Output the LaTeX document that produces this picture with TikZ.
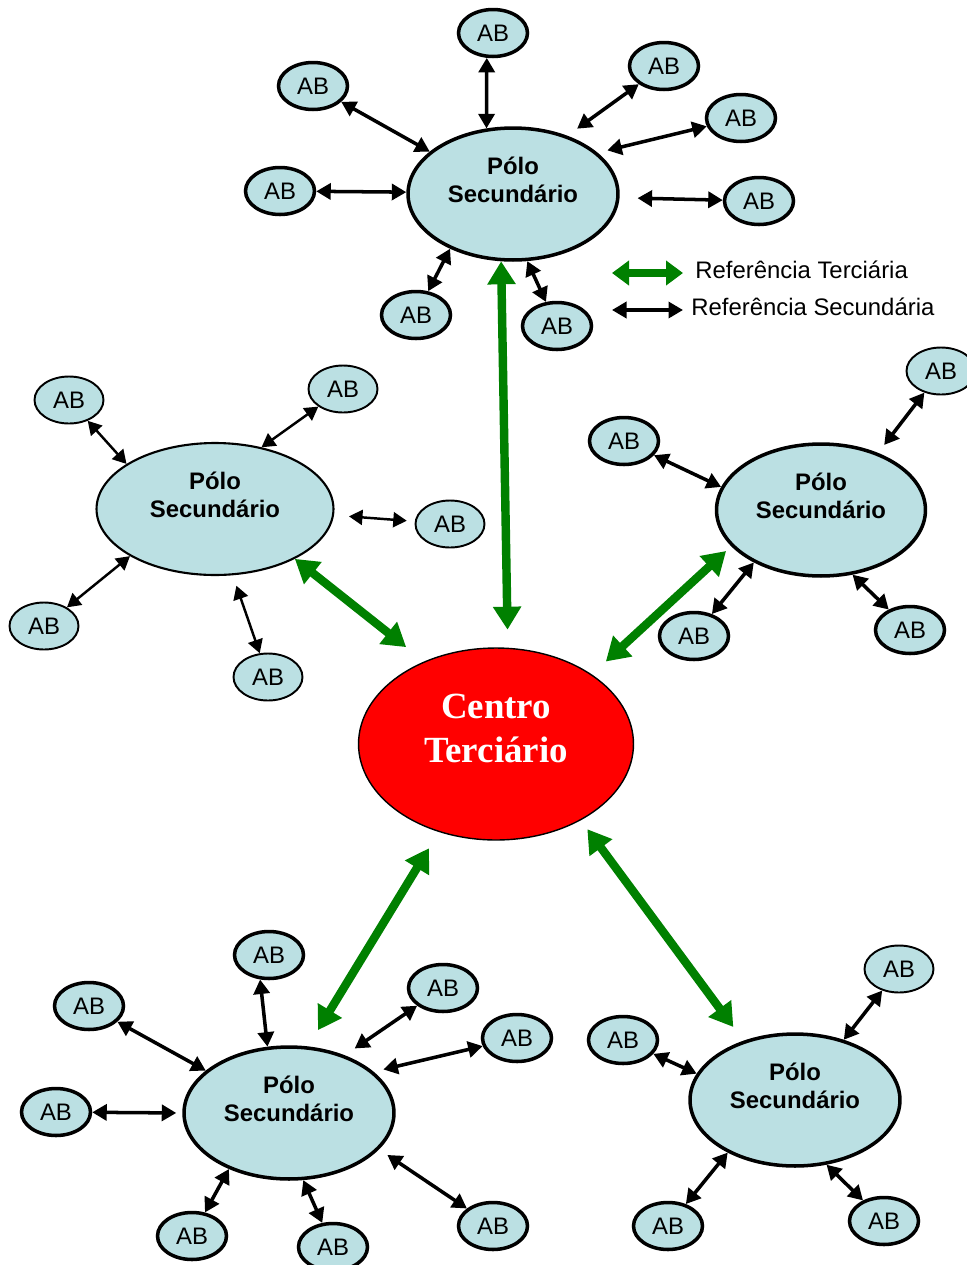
\documentclass[tikz,border=0pt]{standalone}
\usepackage{fontspec}
\setmainfont{Liberation Sans}
\newfontfamily\timesfont{Liberation Serif}
\usetikzlibrary{positioning,arrows.meta,shapes.geometric}

\definecolor{polofill}{RGB}{187,224,227}
\definecolor{refgreen}{RGB}{0,128,0}

\begin{document}
\begin{tikzpicture}[x=0.02cm,y=-0.02cm,
  ab/.style={ellipse,draw,line width=2pt,fill=polofill,minimum width=1.38cm,
    minimum height=0.94cm,inner sep=0pt,font=\fontsize{13.6}{16}\selectfont},
  abthin/.style={ab,line width=1.1pt},
  polo/.style={ellipse,draw,line width=2pt,fill=polofill,minimum width=4.2cm,
    minimum height=2.64cm,inner sep=0pt},
  pololbl/.style={align=center,font=\bfseries\fontsize{13.6}{15.9}\selectfont,yshift=0.28cm},
  centro/.style={ellipse,draw,line width=0.8pt,fill=red,minimum width=5.5cm,
    minimum height=3.84cm,inner sep=0pt},
  centrolbl/.style={align=center,text=white,
    font=\timesfont\bfseries\fontsize{21}{25}\selectfont,yshift=0.32cm},
  sec/.style={{Triangle[length=0.29cm,width=0.32cm]}-{Triangle[length=0.29cm,width=0.32cm]},
    line width=2pt},
  secthin/.style={{Triangle[length=0.27cm,width=0.3cm]}-{Triangle[length=0.27cm,width=0.3cm]},
    line width=1.4pt},
  ter/.style={{Triangle[length=0.46cm,width=0.54cm]}-{Triangle[length=0.46cm,width=0.54cm]},
    line width=4.8pt,refgreen},
  terleg/.style={{Triangle[length=0.34cm,width=0.48cm]}-{Triangle[length=0.34cm,width=0.48cm]},
    line width=4.8pt,refgreen},
  legtext/.style={anchor=west,inner sep=0pt,font=\fontsize{13.6}{16}\selectfont}]

  \useasboundingbox (0,0) rectangle (967,1265);

  % Centro
  \node[centro,label={[centrolbl]center:{Centro\\Terciário}}] (ct) at (496,744) {};

  % Polos
  \node[polo,label={[pololbl]center:{Pólo\\Secundário}}] (ps1) at (513,194) {};
  \node[polo,line width=1.2pt,minimum width=4.74cm,
        label={[pololbl]center:{Pólo\\Secundário}}] (ps2) at (215,509) {};
  \node[polo,minimum width=4.18cm,label={[pololbl]center:{Pólo\\Secundário}}] (ps3) at (821,510) {};
  \node[polo,label={[pololbl]center:{Pólo\\Secundário}}] (ps4) at (289,1113) {};
  \node[polo,label={[pololbl]center:{Pólo\\Secundário}}] (ps5) at (795,1100) {};

  % AB round the top polo
  \node[ab] (t1) at (493,33) {AB};
  \node[ab] (t2) at (313,86) {AB};
  \node[ab] (t3) at (664,66) {AB};
  \node[ab] (t4) at (741,118) {AB};
  \node[ab] (t5) at (280,191) {AB};
  \node[ab] (t6) at (759,201) {AB};
  \node[ab] (t7) at (416,315) {AB};
  \node[ab] (t8) at (557,326) {AB};

  % AB round the left polo
  \node[abthin] (l1) at (69,400) {AB};
  \node[abthin] (l2) at (343,389) {AB};
  \node[abthin] (l3) at (450,524) {AB};
  \node[abthin] (l4) at (44,626) {AB};
  \node[abthin] (l5) at (268,677) {AB};

  % AB round the right polo
  \node[abthin] (r1) at (941,371) {AB};
  \node[ab] (r2) at (624,441) {AB};
  \node[ab] (r3) at (694,636) {AB};
  \node[ab] (r4) at (910,630) {AB};

  % AB round the bottom left polo
  \node[ab] (bl1) at (269,955) {AB};
  \node[ab] (bl2) at (89,1006) {AB};
  \node[ab] (bl3) at (443,988) {AB};
  \node[ab] (bl4) at (517,1038) {AB};
  \node[ab] (bl5) at (56,1112) {AB};
  \node[ab] (bl6) at (192,1236) {AB};
  \node[ab] (bl7) at (333,1247) {AB};
  \node[ab] (bl8) at (493,1226) {AB};

  % AB round the bottom right polo
  \node[abthin] (br1) at (899,969) {AB};
  \node[ab] (br2) at (623,1040) {AB};
  \node[ab] (br3) at (668,1226) {AB};
  \node[ab] (br4) at (884,1221) {AB};

  % Secondary references
  \draw[sec] (t1.-104) -- (ps1.112);
  \draw[sec] (t2) -- (ps1.153);
  \draw[sec,shorten >=0.24cm] (t3) -- (ps1.47);
  \draw[sec,shorten >=0.2cm] (t4) -- (ps1.26);
  \draw[sec] (t5) -- (ps1.179);
  \draw[sec,shorten >=0.36cm] (t6) -- (ps1.-2);
  \draw[sec] (t7) -- (ps1.221);
  \draw[sec] (t8) -- (ps1.-78);

  \draw[secthin] (l1) -- (ps2.153);
  \draw[secthin] (l2) -- (ps2.53);
  \draw[secthin,shorten <=0.16cm,shorten >=0.3cm] (l3) -- (ps2.-3);
  \draw[secthin] (l4) -- (ps2.209);
  \draw[secthin,shorten >=0.22cm] (l5) -- (ps2.-75);

  \draw[sec,shorten >=0.2cm] (r1) -- (ps3.45);
  \draw[sec] (r2) -- (ps3.167);
  \draw[sec] (r3) -- (ps3.218);
  \draw[sec] (r4) -- (ps3.-64);

  \draw[sec] (bl1.-110) -- (ps4.108);
  \draw[sec] (bl2) -- (ps4.153);
  \draw[sec,shorten >=0.24cm] (bl3) -- (ps4.46);
  \draw[sec,shorten >=0.2cm] (bl4) -- (ps4.26);
  \draw[sec,shorten >=0.12cm] (bl5) -- (ps4.180);
  \draw[sec] (bl6) -- (ps4.223);
  \draw[sec] (bl7) -- (ps4.-78);
  \draw[sec,shorten >=0.2cm] (bl8) -- (ps4.-22);

  \draw[sec] (br1) -- (ps5.51);
  \draw[sec] (br2) -- (ps5.165);
  \draw[sec] (br3) -- (ps5.218);
  \draw[sec] (br4) -- (ps5.-64);

  % Tertiary references
  \draw[ter,shorten >=0.36cm] (ps1.-100) -- (ct.83);
  \draw[ter,shorten >=0.46cm] (ps2.-32) -- (ct.131.6);
  \draw[ter,shorten <=0.14cm,shorten >=0.38cm] (ps3.202.5) -- (ct.36.6);
  \draw[ter,shorten <=0.38cm,shorten >=0.38cm] (ps4.74.7) -- (ct.237.6);
  \draw[ter,shorten <=0.34cm,shorten >=0.22cm] (ps5.131.6) -- (ct.-42.7);

  % Legend
  \coordinate (lgT1) at (612,273);
  \coordinate (lgT2) at (683,273);
  \draw[terleg] (lgT1) -- (lgT2);
  \node[legtext] (lgT) at (695,270) {Referência Terciária};
  \coordinate (lgS1) at (612,310);
  \coordinate (lgS2) at (683,310);
  \draw[sec] (lgS1) -- (lgS2);
  \node[legtext] (lgS) at (691,307) {Referência Secundária};

\end{tikzpicture}
\end{document}
